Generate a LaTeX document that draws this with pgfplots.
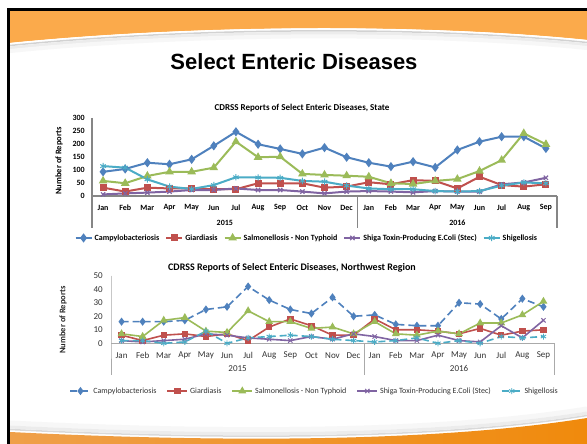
\documentclass[border=0pt]{standalone}
\usepackage{pgfplots}
\pgfplotsset{compat=1.18}
\usepackage{pgfplotstable}
\usepackage{fontspec}
\setmainfont{Liberation Sans}
\newfontfamily\calibri{Carlito}
\definecolor{cBlue}{HTML}{4F81BD}
\definecolor{cRed}{HTML}{C0504D}
\definecolor{cGreen}{HTML}{9BBB59}
\definecolor{cPurple}{HTML}{8064A2}
\definecolor{cCyan}{HTML}{4BACC6}
\definecolor{orng}{HTML}{FBAA4B}
\definecolor{orngL}{HTML}{EFA04A}
\definecolor{orngD}{HTML}{F08A0C}
\definecolor{axgray}{HTML}{868686}

\pgfplotstableread{
m campy giard salmo stec shig
1  93  32  58  6 115
2  104 17  49 10 109
3  128 32  77 13  64
4  122 29  93 17  36
5  141 29  93 23  27
6  193 26 109 23  42
7  247 26 209 29  72
8  199 49 149 23  71
9  181 49 151 23  70
10 162 49  85 17  58
11 186 32  81 10  55
12 149 36  78 17  40
13 128 53  74 19  29
14 113 45  49 17  26
15 132 61  46 14  26
16 110 58  58 19  19
17 177 29  65 17  17
18 209 74  96 17  19
19 228 42 138 45  40
20 228 36 241 52  52
21 183 45 199 70  49
}\statetab

\pgfplotstableread{
m campy giard salmo stec shig
1  16  6  7  2 2
2  16  2  5  1 2
3  16  6 17  2 0
4  17  7 19  3 1
5  25  5  9  7 9
6  27  7  8  6 0
7  42  2 24  4 4
8  32 12 16  3 5
9  25 18 16  2 6
10 22 13 11  5 5
11 34  6 12  3 3
12 20  6  7  7 2
13 21 18 16  5 1
14 14 10  7  2 2
15 13 10  6  2 4
16 13  9  9  6 0
17 30  7  7  2 2
18 29 11 15  1 0
19 18  6 15 13 5
20 33  9 21  4 4
21 27 10 31 17 5
}\nwtab

\newcommand{\months}{Jan,Feb,Mar,Apr,May,Jun,Jul,Aug,Sep,Oct,Nov,Dec,Jan,Feb,Mar,Apr,May,Jun,Jul,Aug,Sep}

\begin{document}
\begin{tikzpicture}[x=1pt,y=1pt]
\path[use as bounding box] (0,0) rectangle (587,444);
\fill[white] (0,0) rectangle (587,444);
% top band
\fill[orng] (10,435) -- (587,435) -- (587,404) .. controls (430,420) and (200,420) .. (10,401) -- cycle;
\draw[white, line width=1.2pt] (587,403.5) .. controls (430,419.5) and (200,419.5) .. (10,400.5);
\draw[gray!35, line width=1.5pt] (587,401.5) .. controls (430,417.5) and (200,417.5) .. (10,398.5);
\draw[gray!15, line width=3pt] (587,399) .. controls (430,415) and (200,415) .. (10,396);
\draw[gray!6, line width=4pt] (587,396) .. controls (430,412) and (200,412) .. (10,393);
% bottom band
\draw[gray!6, line width=5pt] (10,21) .. controls (250,9) and (450,13) .. (587,35);
\draw[gray!15, line width=3pt] (10,17) .. controls (250,5) and (450,9) .. (587,31);
\draw[gray!30, line width=1.5pt] (10,14.5) .. controls (250,2.5) and (450,6.5) .. (587,28.5);
\shade[left color=orngL, right color=orngD] (10,12) .. controls (250,0) and (450,4) .. (587,26) -- (587,0) -- (10,0) -- cycle;
% black frame
\fill[black] (7.3,0) rectangle (10,435.5);
\fill[black] (7.3,433) rectangle (587,435.5);

\node[font=\fontsize{22}{26}\selectfont\bfseries] at (294,382) {Select Enteric Diseases};

% ---------------- Top chart (State)
\node[font=\calibri\bfseries\fontsize{9}{11}\selectfont] at (302,336) {CDRSS Reports of Select Enteric Diseases, State};
\node[font=\calibri\bfseries\fontsize{8.5}{10}\selectfont, rotate=90] at (59,283) {Number of Reports};
\begin{axis}[
  at={(92pt,248pt)}, anchor=south west,
  scale only axis, width=465pt, height=78pt,
  xmin=0.5, xmax=21.5, ymin=0, ymax=300,
  clip=false,
  axis line style={draw=none},
  major tick length=0pt,
  xtick={1,...,21}, xticklabels/.expanded={\months},
  ytick={0,50,...,300},
  /pgf/number format/assume math mode=true,
  ticklabel style={font=\calibri\bfseries\fontsize{8}{9}\selectfont},
  xticklabel style={anchor=center, yshift=-12pt},
  yticklabel style={inner sep=0pt, xshift=-7pt},
  legend columns=5,
  legend style={at={(0.462,-0.538)}, anchor=center, draw=none, fill=none,
    font=\calibri\bfseries\fontsize{8}{9}\selectfont,
    /tikz/every even column/.append style={column sep=4pt}},
  legend image code/.code={\draw[mark repeat=2,mark phase=2] plot coordinates {(0pt,0pt) (8pt,0pt) (16pt,0pt)};},
]
\draw[axgray, line width=1.5pt] (axis cs:0.5,300) -- (axis cs:0.5,0) -- ++(0pt,-32pt);
\draw[axgray, line width=1.2pt] (axis cs:0.5,0) -- (axis cs:21.5,0);
\draw[axgray, line width=1.5pt] (axis cs:12.5,0) -- ++(0pt,-32pt);
\draw[axgray, line width=1.5pt] (axis cs:21.5,0) -- ++(0pt,-32pt);
\node[font=\calibri\bfseries\fontsize{8}{9}\selectfont] at (axis cs:6.5,0) [yshift=-27pt] {2015};
\node[font=\calibri\bfseries\fontsize{8}{9}\selectfont] at (axis cs:17,0) [yshift=-27pt] {2016};
\addplot[cBlue, line width=2pt, mark=diamond*, mark size=3pt] table[x=m,y=campy]{\statetab};
\addlegendentry{Campylobacteriosis}
\addplot[cRed, line width=2pt, mark=square*, mark size=2.5pt] table[x=m,y=giard]{\statetab};
\addlegendentry{Giardiasis}
\addplot[cGreen, line width=2pt, mark=triangle*, mark size=3pt] table[x=m,y=salmo]{\statetab};
\addlegendentry{Salmonellosis - Non Typhoid}
\addplot[cPurple, line width=2pt, mark=x, mark size=3pt, mark options={line width=1.2pt}] table[x=m,y=stec]{\statetab};
\addlegendentry{Shiga Toxin-Producing E.Coli (Stec)}
\addplot[cCyan, line width=2pt, mark=asterisk, mark size=3.2pt, mark options={line width=1pt}] table[x=m,y=shig]{\statetab};
\addlegendentry{Shigellosis}
\end{axis}

% ---------------- Bottom chart (Northwest)
\node[font=\calibri\bfseries\fontsize{10}{12}\selectfont] at (292,176) {CDRSS Reports of Select Enteric Diseases, Northwest Region};
\node[font=\calibri\bfseries\fontsize{8.5}{10}\selectfont, text=black!85, rotate=90] at (63,124) {Number of Reports};
\begin{axis}[
  at={(111pt,100.7pt)}, anchor=south west,
  scale only axis, width=443pt, height=67.6pt,
  xmin=0.5, xmax=21.5, ymin=0, ymax=50,
  clip=false,
  axis line style={draw=none},
  major tick length=0pt,
  xtick={1,...,21}, xticklabels/.expanded={\months},
  ytick={0,10,...,50},
  /pgf/number format/assume math mode=true,
  ticklabel style={font=\calibri\fontsize{9}{10}\selectfont, text=black!80},
  xticklabel style={anchor=center, yshift=-12pt},
  yticklabel style={inner sep=0pt, xshift=-8pt},
  legend columns=5,
  legend style={at={(0.460,-0.706)}, anchor=center, draw=none, fill=none,
    font=\calibri\fontsize{8}{9}\selectfont, text=black!80,
    /tikz/every even column/.append style={column sep=8pt}},
  legend image code/.code={\draw[mark repeat=2,mark phase=2] plot coordinates {(0pt,0pt) (10pt,0pt) (20pt,0pt)};},
]
\draw[axgray!70, line width=0.7pt] (axis cs:0.5,50) -- (axis cs:0.5,0) -- ++(0pt,-32pt);
\draw[axgray!70, line width=0.7pt] (axis cs:0.5,0) -- (axis cs:21.5,0);
\draw[axgray!70, line width=0.7pt] (axis cs:12.5,0) -- ++(0pt,-32pt);
\draw[axgray!70, line width=0.7pt] (axis cs:21.5,0) -- ++(0pt,-32pt);
\node[font=\calibri\fontsize{9}{10}\selectfont, text=black!80] at (axis cs:6.5,0) [yshift=-25pt] {2015};
\node[font=\calibri\fontsize{9}{10}\selectfont, text=black!80] at (axis cs:17,0) [yshift=-25pt] {2016};
\addplot[cBlue, line width=1.6pt, dash pattern=on 7pt off 4pt, mark=diamond*, mark size=2.8pt, mark options={solid}] table[x=m,y=campy]{\nwtab};
\addlegendentry{Campylobacteriosis}
\addplot[cRed, line width=1.6pt, mark=square*, mark size=2.4pt] table[x=m,y=giard]{\nwtab};
\addlegendentry{Giardiasis}
\addplot[cGreen, line width=1.6pt, mark=triangle*, mark size=3pt] table[x=m,y=salmo]{\nwtab};
\addlegendentry{Salmonellosis - Non Typhoid}
\addplot[cPurple, line width=1.6pt, mark=x, mark size=3pt, mark options={line width=1pt}] table[x=m,y=stec]{\nwtab};
\addlegendentry{Shiga Toxin-Producing E.Coli (Stec)}
\addplot[cCyan, line width=1.6pt, dash pattern=on 7pt off 4pt, mark=asterisk, mark size=3pt, mark options={solid, line width=0.9pt}] table[x=m,y=shig]{\nwtab};
\addlegendentry{Shigellosis}
\end{axis}
\end{tikzpicture}
\end{document}
